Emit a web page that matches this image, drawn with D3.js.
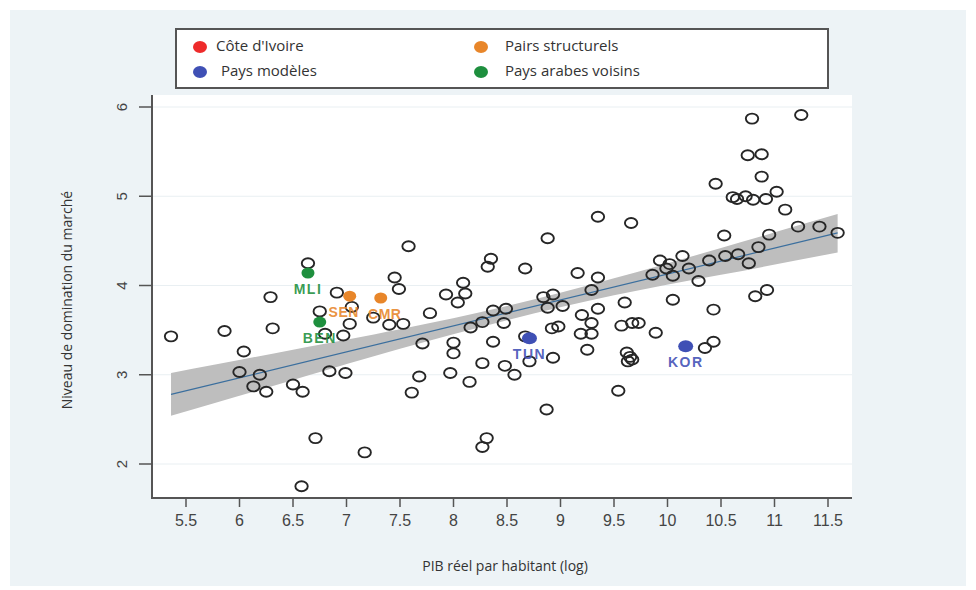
<!DOCTYPE html>
<html><head><meta charset="utf-8">
<script src="https://cdn.jsdelivr.net/npm/d3@7/dist/d3.min.js"></script>
<style>body{margin:0;background:#fff}svg{display:block}</style>
</head><body>
<svg id="c" width="976" height="590"></svg>
<script>
// ---- data ----
const xTicks = [5.5,6,6.5,7,7.5,8,8.5,9,9.5,10,10.5,11,11.5];
const yTicks = [2,3,4,5,6];
const gdp = [5.36,5.86,6.31,6.29,6.04,6.00,6.19,6.13,6.25,6.50,6.59,6.71,6.58,6.64,6.91,6.75,6.80,6.84,6.99,7.05,7.25,7.03,6.97,7.17,7.40,7.53,7.45,7.49,7.58,7.68,7.61,7.78,7.71,7.93,8.11,8.09,8.04,8.00,8.00,7.97,8.15,8.16,8.27,8.37,8.49,8.47,8.37,8.27,8.48,8.57,8.31,8.27,8.35,8.32,8.67,8.88,8.87,8.67,8.71,8.93,8.84,8.93,8.88,9.02,8.92,8.98,9.20,9.19,9.16,9.35,9.66,9.35,9.29,9.35,9.29,9.29,9.25,9.60,9.57,9.67,9.73,9.89,9.62,9.65,9.63,9.67,9.54,10.05,10.43,10.43,10.35,9.93,10.14,10.02,9.99,9.86,10.05,10.20,10.29,10.39,10.54,10.66,10.76,10.85,10.95,10.53,10.82,10.93,11.22,11.42,11.59,11.10,11.02,10.92,10.80,10.73,10.65,10.61,10.45,10.88,10.75,10.88,10.79,11.25];
const dom = [3.43,3.49,3.52,3.87,3.26,3.03,3.00,2.87,2.81,2.89,2.81,2.29,1.75,4.25,3.92,3.71,3.46,3.04,3.02,3.76,3.64,3.57,3.44,2.13,3.56,3.57,4.09,3.96,4.44,2.98,2.80,3.69,3.35,3.90,3.91,4.03,3.81,3.36,3.24,3.02,2.92,3.53,3.59,3.72,3.74,3.58,3.37,3.13,3.10,3.00,2.29,2.19,4.30,4.21,4.19,4.53,2.61,3.43,3.15,3.19,3.87,3.90,3.75,3.77,3.52,3.54,3.67,3.46,4.14,4.77,4.70,4.09,3.95,3.74,3.58,3.46,3.28,3.81,3.55,3.58,3.58,3.47,3.25,3.20,3.15,3.17,2.82,3.84,3.73,3.37,3.30,4.28,4.33,4.24,4.19,4.12,4.11,4.19,4.05,4.28,4.33,4.35,4.25,4.43,4.57,4.56,3.88,3.95,4.66,4.66,4.59,4.85,5.05,4.97,4.96,5.00,4.97,4.99,5.14,5.22,5.46,5.47,5.87,5.91];
const hlCodes = ["MLI","BEN","SEN","CMR","TUN","KOR"];
const hlGroup = ["arab","arab","peer","peer","model","model"];
const hlGdp = [6.64,6.75,7.03,7.32,8.71,10.17];
const hlDom = [4.14,3.59,3.88,3.86,3.41,3.32];
const fitX = [5.36, 11.59];
const fitY = [2.78, 4.59];
const bandX = [5.36,6.5,7.5,8.5,9.5,10.5,11.59];
const bandLo = [2.54,2.94,3.29,3.61,3.89,4.12,4.37];
const bandHi = [3.02,3.28,3.51,3.77,4.08,4.42,4.80];
const legendKeys = ["civ","peer","model","arab"];
const legendLabels = ["Côte d'Ivoire","Pairs structurels","Pays modèles","Pays arabes voisins"];
const groupColor = {civ:"#ee2b2b", peer:"#e8862a", model:"#3f50b5", arab:"#1e8f3e"};

// ---- drawing ----
const svg = d3.select("#c");
const x = d3.scaleLinear().domain([5.5,11.5]).range([186,828]);
const y = d3.scaleLinear().domain([2,6]).range([464,107]);
const L = 152, R = 852, T = 95, B = 498;

svg.append("rect").attr("x",10).attr("y",10).attr("width",956).attr("height",576).attr("fill","#edf3f6");
svg.append("rect").attr("x",L).attr("y",T).attr("width",R-L).attr("height",B-T).attr("fill","#fff");

// grid
svg.append("g").selectAll("line").data(yTicks).join("line")
  .attr("x1",L).attr("x2",R).attr("y1",d=>y(d)).attr("y2",d=>y(d))
  .attr("stroke","#e9eff2").attr("stroke-width",1);

// CI band + fit
svg.append("path").datum(bandX.map((v,i)=>[v,bandLo[i],bandHi[i]]))
  .attr("d", d3.area().x(d=>x(d[0])).y0(d=>y(d[1])).y1(d=>y(d[2])).curve(d3.curveNatural))
  .attr("fill","#bebebe");
svg.append("path").datum(fitX.map((v,i)=>[v,fitY[i]]))
  .attr("d", d3.line().x(d=>x(d[0])).y(d=>y(d[1])))
  .attr("stroke","#3b6f9e").attr("stroke-width",1.2).attr("fill","none");

// hollow points
svg.append("g").selectAll("ellipse").data(gdp.map((v,i)=>[v,dom[i]])).join("ellipse")
  .attr("cx",d=>x(d[0])).attr("cy",d=>y(d[1])).attr("rx",6.2).attr("ry",5)
  .attr("fill","none").attr("stroke","#262626").attr("stroke-width",1.9);

// highlighted points
const labelShift = {SEN:-6, CMR:4};
const hl = hlCodes.map((c,i)=>({c, g:hlGroup[i], x:hlGdp[i], y:hlDom[i]}));
svg.append("g").selectAll("ellipse").data(hl).join("ellipse")
  .attr("cx",d=>x(d.x)).attr("cy",d=>y(d.y)).attr("rx",d=>d.g==="model"?7.5:6.5).attr("ry",d=>d.g==="model"?6:5.5)
  .attr("fill",d=>groupColor[d.g]);
svg.append("g").selectAll("text").data(hl).join("text")
  .attr("x",d=>x(d.x)+(labelShift[d.c]||0)).attr("y",d=>y(d.y)+17)
  .attr("text-anchor","middle").attr("dominant-baseline","middle")
  .attr("font-family","Liberation Sans, Arial, sans-serif").attr("font-weight","bold")
  .attr("font-size",14).attr("letter-spacing",d=>d.g==="peer"?0.5:1.5)
  .attr("fill",d=>groupColor[d.g]).attr("fill-opacity",0.9).text(d=>d.c);

// axes
const ax = svg.append("g").attr("stroke","#555").attr("stroke-width",2);
ax.append("line").attr("x1",L).attr("x2",L).attr("y1",T).attr("y2",B+1);
ax.append("line").attr("x1",L-1).attr("x2",R).attr("y1",B).attr("y2",B);
ax.selectAll(".yt").data(yTicks).join("line").attr("class","yt")
  .attr("x1",L-13).attr("x2",L).attr("y1",d=>y(d)).attr("y2",d=>y(d)).attr("stroke-width",1.5);
ax.selectAll(".xt").data(xTicks).join("line").attr("class","xt")
  .attr("x1",d=>x(d)).attr("x2",d=>x(d)).attr("y1",B).attr("y2",B+9).attr("stroke-width",1.5);

svg.append("g").selectAll("text").data(xTicks).join("text")
  .attr("x",d=>x(d)).attr("y",522).attr("text-anchor","middle").attr("dominant-baseline","middle")
  .attr("font-family","Liberation Sans, Arial, sans-serif").attr("font-size",16).attr("fill","#444")
  .text(d=>d);
svg.append("g").selectAll("text").data(yTicks).join("text")
  .attr("transform",d=>`translate(123,${y(d)}) rotate(-90)`)
  .attr("text-anchor","middle").attr("dominant-baseline","middle")
  .attr("font-family","Liberation Sans, Arial, sans-serif").attr("font-size",15).attr("fill","#444")
  .text(d=>d);

svg.append("text").attr("x",505).attr("y",567).attr("text-anchor","middle").attr("dominant-baseline","middle")
  .attr("font-family","Open Sans, sans-serif").attr("font-size",14).attr("fill","#333")
  .text("PIB réel par habitant (log)");
svg.append("text").attr("transform","translate(68,300) rotate(-90)").attr("text-anchor","middle").attr("dominant-baseline","middle")
  .attr("font-family","Open Sans, sans-serif").attr("font-size",14).attr("fill","#333")
  .text("Niveau de domination du marché");

// legend
svg.append("rect").attr("x",176).attr("y",29).attr("width",652).attr("height",59)
  .attr("fill","#fff").attr("stroke","#555").attr("stroke-width",2);
const lg = svg.append("g").selectAll("g").data(legendKeys).join("g")
  .attr("transform",(d,i)=>`translate(${i%2===0?200:481},${i<2?47:72})`);
lg.append("ellipse").attr("rx",7).attr("ry",6).attr("fill",d=>groupColor[d]);
lg.append("text").attr("x",(d,i)=>i===0?16:(i===2?21:24)).attr("dominant-baseline","middle")
  .attr("font-family","Open Sans, sans-serif").attr("font-size",15).attr("fill","#333")
  .text((d,i)=>legendLabels[i]);
</script>
</body></html>
